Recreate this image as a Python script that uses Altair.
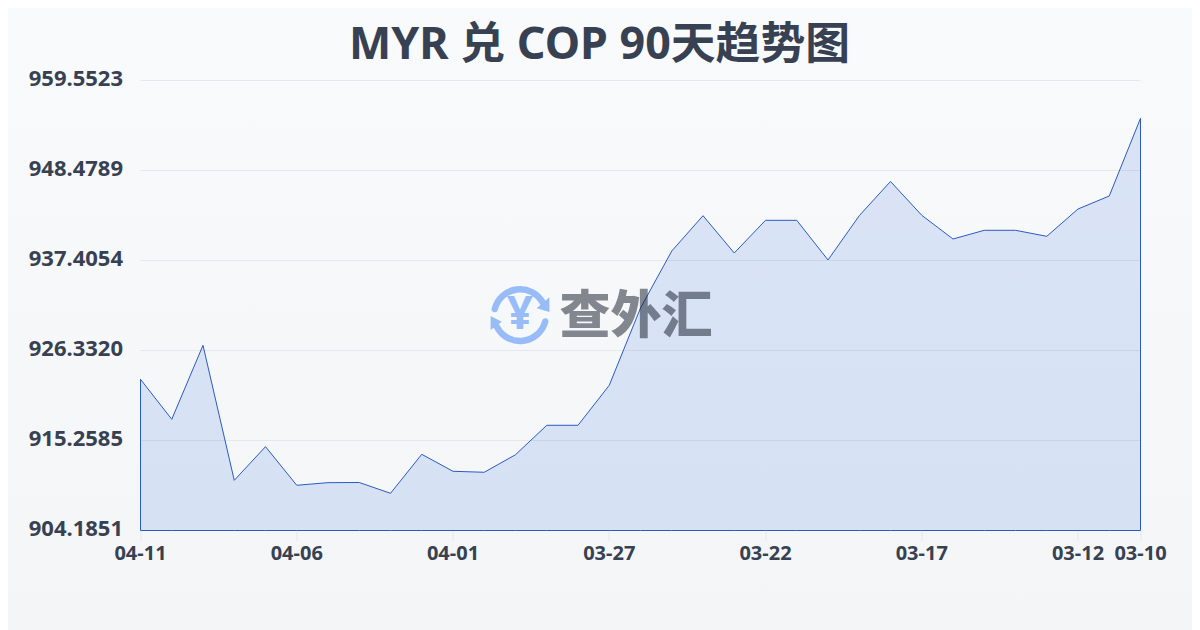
import altair as alt
import pandas as pd

TITLE = "MYR 兑 COP 90天趋势图"
WATERMARK = "查外汇"
dates = ["04-11","04-10","04-09","04-08","04-07","04-06","04-05","04-04","04-03","04-02","04-01",
         "03-31","03-30","03-29","03-28","03-27","03-26","03-25","03-24","03-23","03-22","03-21",
         "03-20","03-19","03-18","03-17","03-16","03-15","03-14","03-13","03-12","03-11","03-10"]
rates = [922.79,917.87,926.97,910.36,914.50,909.75,910.07,910.09,908.76,913.56,911.47,
         911.35,913.51,917.13,917.13,922.05,931.56,938.57,942.92,938.33,942.35,942.35,
         937.47,942.92,947.13,942.97,940.05,941.12,941.12,940.38,943.74,945.34,954.90]
y_ticks = [904.1851, 915.2585, 926.3320, 937.4054, 948.4789, 959.5523]
x_ticks = ["04-11","04-06","04-01","03-27","03-22","03-17","03-12","03-10"]

df = pd.DataFrame({"date": dates, "rate": rates})
one = pd.DataFrame({"a": [0]})
grid_df = pd.DataFrame({"rate": y_ticks})
FONT = "Noto Sans"
CJK = "Noto Sans CJK SC"
MIXED = "'Noto Sans', 'Noto Sans CJK SC'"
INK = "#374151"
LOGO = "#98bcf7"
ARCS = "M-0.97,-0.23A1,1,0,0,1,0.88,-0.47M0.97,0.25A1,1,0,0,1,-0.88,0.47"
HEADS = "M1.13,-0.68L1.13,-0.12L0.64,-0.26ZM-1.13,0.04L-1.13,0.58L-0.70,0.26Z"

x = alt.X("date:N", sort=dates, title=None,
          scale=alt.Scale(type="point", padding=0, align=0),
          axis=alt.Axis(values=x_ticks, labelAngle=0, labelFont=FONT, labelFontSize=20, labelFontWeight=700,
                        labelColor=INK, labelPadding=3, labelOverlap=False, labelFlush=False, grid=False,
                        domain=False, ticks=True, tickColor="#e5e7eb", tickSize=10, tickOffset=-0.5, zindex=1))
y_scale = alt.Scale(domain=[y_ticks[0], y_ticks[-1]], nice=False, zero=False)
y = alt.Y("rate:Q", title=None, scale=y_scale,
          axis=alt.Axis(values=y_ticks, format=".4f", labelFont=FONT, labelFontSize=22, labelFontWeight=700,
                        labelColor=INK, labelPadding=18, labelOffset=-2, domain=False, ticks=False,
                        grid=False, zindex=1))

bg = alt.Chart(one).mark_rect(
    fill=alt.Gradient(gradient="linear", x1=0, x2=0, y1=0, y2=1,
                      stops=[alt.GradientStop(color="#f9fafc", offset=0),
                             alt.GradientStop(color="#f3f5f7", offset=1)])
).encode(x=alt.value(-133), x2=alt.value(1052), y=alt.value(-73), y2=alt.value(550))

grid = alt.Chart(grid_df).mark_rule(color="#e5e7eb", strokeWidth=1).encode(y=y)

area = alt.Chart(df).mark_area(
    fill="#2560dd", fillOpacity=0.14, stroke="#2a5bc4", strokeWidth=1,
    interpolate="linear", clip=False
).encode(x=x, y=y, y2=alt.datum(y_ticks[0]))

mark_txt = alt.Chart(one).mark_text(
    text=WATERMARK, font=CJK, fontSize=51, fontWeight=900, align="left", baseline="middle",
    color="#111827", opacity=0.5
).encode(x=alt.value(419), y=alt.value(237))

arcs = alt.Chart(one).mark_point(
    shape=ARCS, size=2704, filled=False, stroke=LOGO, strokeWidth=6.5, strokeCap="round", opacity=1
).encode(x=alt.value(379.5), y=alt.value(234.5))
heads = alt.Chart(one).mark_point(
    shape=HEADS, size=2704, filled=True, fill=LOGO, opacity=1
).encode(x=alt.value(379.5), y=alt.value(234.5))
yen = alt.Chart(one).mark_text(
    text="¥", font=FONT, fontSize=46, fontWeight=700, align="center", baseline="middle",
    color=LOGO
).encode(x=alt.value(379.5), y=alt.value(234.5))

chart = alt.layer(bg, grid, area, mark_txt, arcs, heads, yen).properties(
    width=1000, height=450,
    padding={"left": 132.5, "right": 51.5, "top": 72.5, "bottom": 99.5},
    autosize=alt.AutoSizeParams(type="none"),
    background="#f6f7fa",
    title=alt.TitleParams(TITLE, font=MIXED, fontSize=44.8, fontWeight=700, color=INK,
                          anchor="middle", frame="group", dx=-41, offset=-61, zindex=1),
).configure_view(stroke=None)

chart.save("out.html", embed_options={"renderer": "svg", "actions": False})
